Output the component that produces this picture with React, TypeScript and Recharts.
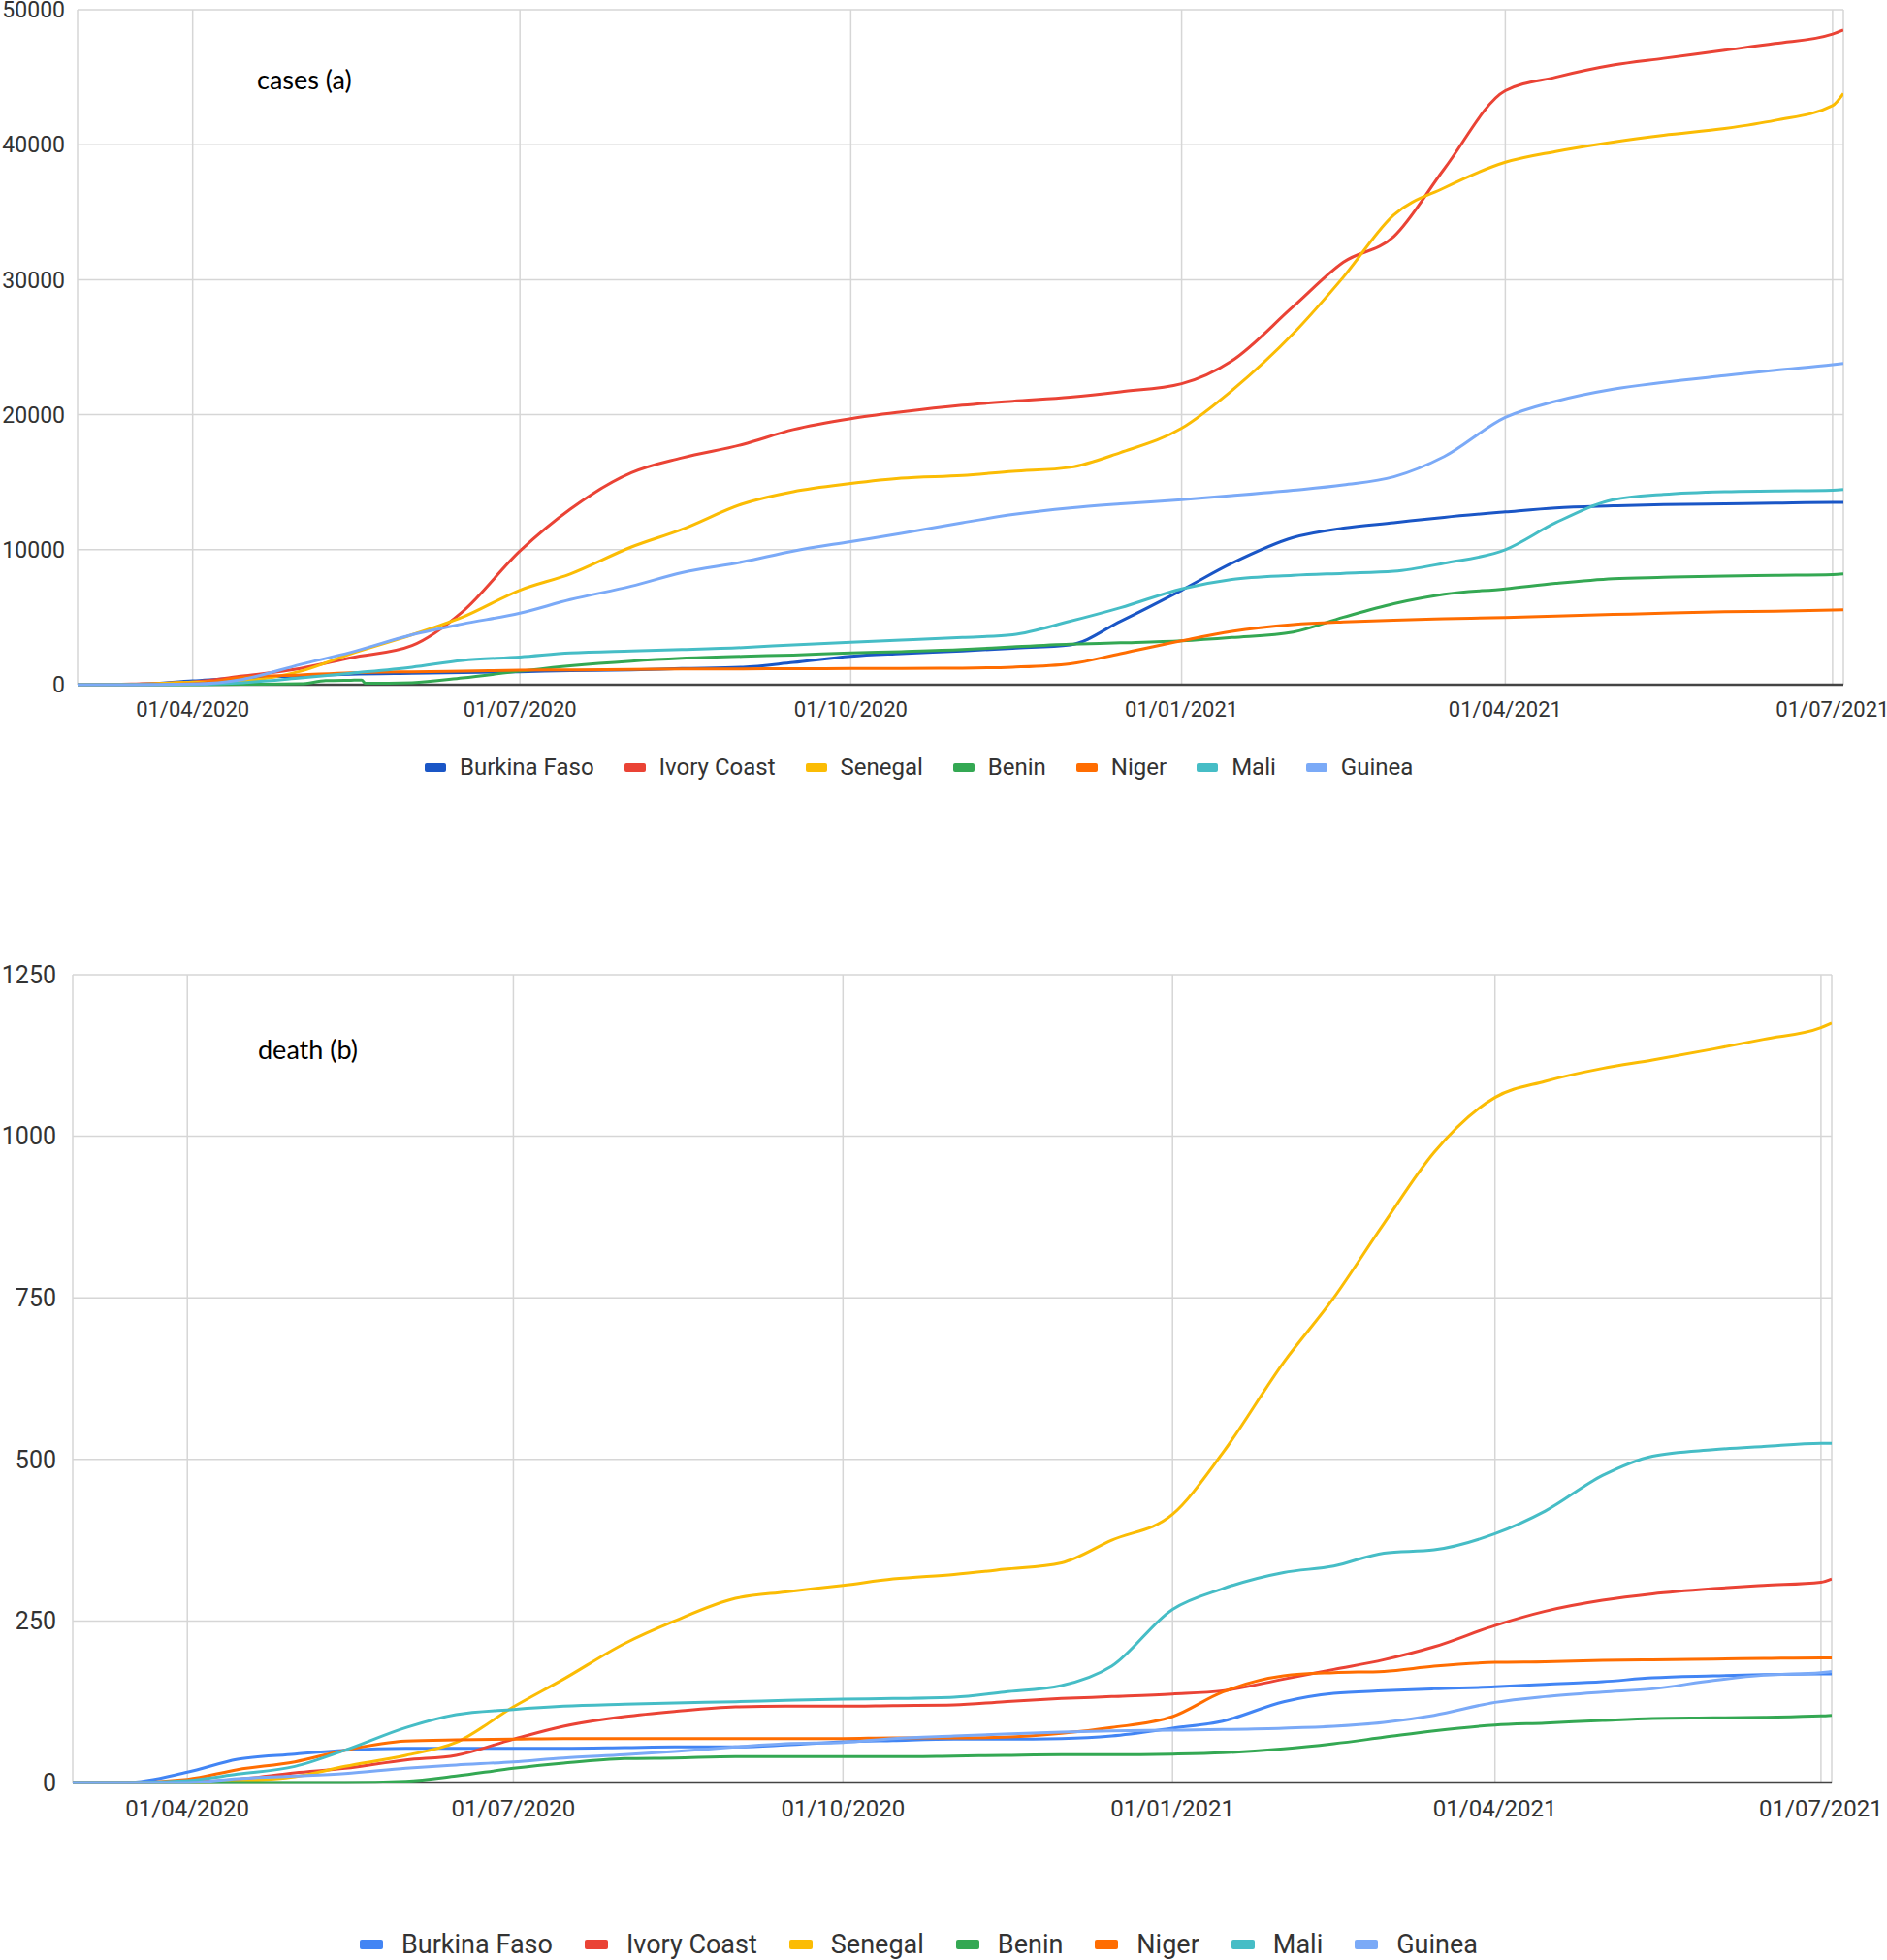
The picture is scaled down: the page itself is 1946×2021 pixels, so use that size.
import React from 'react';
import { LineChart, Line, XAxis, YAxis, CartesianGrid, ReferenceLine, Legend } from 'recharts';

const dates = [
  '2020-02-29', '2020-03-15', '2020-04-01', '2020-04-15', '2020-05-01', '2020-05-08', '2020-05-15', '2020-05-18', '2020-05-19',
  '2020-06-01', '2020-06-15', '2020-07-01', '2020-07-15', '2020-08-01', '2020-08-15', '2020-09-01', '2020-09-15',
  '2020-10-01', '2020-10-15', '2020-11-01', '2020-11-15', '2020-12-01', '2020-12-15', '2021-01-01', '2021-01-15',
  '2021-02-01', '2021-02-15', '2021-03-01', '2021-03-15', '2021-04-01', '2021-04-15', '2021-05-01', '2021-05-15',
  '2021-06-01', '2021-06-15', '2021-07-01', '2021-07-04',
];

const countries = ['Burkina Faso', 'Ivory Coast', 'Senegal', 'Benin', 'Niger', 'Mali', 'Guinea'];
const seriesKeys = ['bf', 'ic', 'sn', 'bj', 'ne', 'ml', 'gn'];

// cumulative cases (a)
const casesBurkinaFaso = [0, 15, 280, 500, 650, null, 780, null, null, 850, 900, 960, 1040, 1100, 1200, 1300, 1650, 2100, 2300, 2500, 2700, 2950, 4700, 7000, 9000, 10900, 11600, 12000, 12400, 12800, 13100, 13250, 13350, 13400, 13450, 13500, 13500];
const casesIvoryCoast = [0, 50, 200, 640, 1200, null, 2000, null, null, 2900, 5400, 9900, 13000, 15700, 16800, 17800, 18900, 19700, 20200, 20700, 21000, 21300, 21700, 22300, 24000, 28000, 31300, 33200, 38200, 44000, 45000, 45900, 46400, 47000, 47500, 48200, 48500];
const casesSenegal = [0, 30, 190, 300, 1000, null, 2300, null, null, 3700, 5000, 7000, 8200, 10200, 11500, 13400, 14300, 14900, 15300, 15500, 15800, 16100, 17200, 19000, 21800, 26000, 30200, 34800, 36800, 38700, 39500, 40200, 40700, 41200, 41800, 42900, 43800];
const casesBenin = [0, 0, 6, 35, 64, 300, 330, 340, 100, 150, 500, 1000, 1400, 1750, 1950, 2100, 2200, 2350, 2450, 2600, 2800, 3000, 3100, 3250, 3500, 3900, 5000, 6000, 6700, 7100, 7500, 7850, 7950, 8050, 8100, 8150, 8200];
const casesNiger = [0, 0, 80, 550, 720, null, 880, null, null, 960, 1000, 1075, 1100, 1130, 1160, 1175, 1180, 1200, 1210, 1230, 1300, 1550, 2300, 3250, 3950, 4450, 4650, 4780, 4880, 4980, 5080, 5200, 5300, 5400, 5450, 5530, 5550];
const casesMali = [0, 0, 30, 150, 500, null, 850, null, null, 1300, 1800, 2050, 2350, 2500, 2600, 2750, 2950, 3150, 3300, 3500, 3700, 4700, 5700, 7100, 7800, 8100, 8250, 8400, 9000, 10000, 12000, 13700, 14100, 14300, 14350, 14400, 14450];
const casesGuinea = [0, 5, 50, 400, 1500, null, 2400, null, null, 3700, 4500, 5300, 6300, 7300, 8300, 9100, 9900, 10600, 11200, 12000, 12600, 13100, 13400, 13700, 14000, 14400, 14800, 15400, 16900, 19800, 21000, 21900, 22400, 22900, 23300, 23700, 23800];

// cumulative deaths (b)
const deathsBurkinaFaso = [0, 0, 16, 36, 44, null, 50, null, null, 53, 53, 53, 53, 54, 55, 55, 58, 63, 65, 67, 67, 68, 72, 84, 95, 125, 138, 142, 145, 148, 152, 156, 162, 165, 167, 168, 168];
const deathsIvoryCoast = [0, 0, 1, 5, 15, null, 22, null, null, 35, 42, 67, 87, 102, 110, 117, 118, 118, 119, 120, 125, 130, 133, 137, 142, 160, 175, 190, 210, 243, 265, 282, 292, 300, 305, 310, 315];
const deathsSenegal = [0, 0, 0, 2, 9, null, 25, null, null, 42, 62, 117, 160, 215, 250, 285, 295, 305, 315, 322, 330, 340, 375, 415, 510, 650, 750, 865, 975, 1060, 1085, 1105, 1118, 1135, 1150, 1168, 1175];
const deathsBenin = [0, 0, 0, 0, 0, null, 0, null, null, 2, 10, 22, 30, 37, 38, 40, 40, 40, 40, 41, 42, 43, 43, 44, 46, 52, 60, 70, 80, 89, 92, 96, 99, 100, 101, 103, 104];
const deathsNiger = [0, 0, 5, 20, 32, null, 50, null, null, 64, 66, 67, 68, 68, 68, 68, 68, 68, 69, 69, 70, 76, 85, 102, 140, 165, 170, 172, 180, 186, 187, 189, 190, 191, 192, 193, 193];
const deathsMali = [0, 0, 3, 13, 25, null, 50, null, null, 85, 105, 113, 118, 121, 123, 125, 127, 129, 130, 132, 140, 150, 180, 268, 300, 325, 335, 355, 360, 385, 420, 475, 505, 515, 520, 525, 525];
const deathsGuinea = [0, 0, 0, 6, 10, null, 14, null, null, 22, 27, 32, 38, 43, 48, 55, 60, 62, 68, 72, 75, 78, 80, 81, 82, 84, 87, 93, 104, 124, 133, 140, 145, 158, 166, 170, 172];

const xTickDates = ['2020-04-01', '2020-07-01', '2020-10-01', '2021-01-01', '2021-04-01', '2021-07-01'];
const xDomainDates = ['2020-02-29', '2021-07-04'];
const casesTicks = [0, 10000, 20000, 30000, 40000, 50000];
const deathsTicks = [0, 250, 500, 750, 1000, 1250];

const casesColors = ['#1a56c6', '#ea4335', '#fbbc04', '#34a853', '#ff6d01', '#46bdc6', '#7baaf7'];
const deathsColors = ['#4285f4', '#ea4335', '#fbbc04', '#34a853', '#ff6d01', '#46bdc6', '#7baaf7'];

const toTs = (s: string) => {
  const [y, m, d] = s.split('-').map(Number);
  return Date.UTC(y, m - 1, d);
};
const fmtDate = (t: number) => {
  const d = new Date(t);
  const dd = String(d.getUTCDate()).padStart(2, '0');
  const mm = String(d.getUTCMonth() + 1).padStart(2, '0');
  return `${dd}/${mm}/${d.getUTCFullYear()}`;
};

const buildRows = (series: (number | null)[][]) =>
  dates.map((d, i) => {
    const row: Record<string, number | null> = { t: toTs(d) };
    seriesKeys.forEach((k, j) => {
      row[k] = series[j][i];
    });
    return row;
  });

const casesRows = buildRows([casesBurkinaFaso, casesIvoryCoast, casesSenegal, casesBenin, casesNiger, casesMali, casesGuinea]);
const deathsRows = buildRows([deathsBurkinaFaso, deathsIvoryCoast, deathsSenegal, deathsBenin, deathsNiger, deathsMali, deathsGuinea]);

const xTicks = xTickDates.map(toTs);
const xDomain = xDomainDates.map(toTs);

const FONT = 'Roboto, "Noto Sans", Arial, sans-serif';

const LegendRow = ({ colors, fontSize, swatchW, swatchH, gapIcon, gapItem, left }: any) => (
  <div style={{ display: 'flex', alignItems: 'center', height: 32, paddingLeft: left, fontFamily: FONT, fontSize, color: '#333', whiteSpace: 'nowrap' }}>
    {countries.map((c, i) => (
      <div key={c} style={{ display: 'flex', alignItems: 'center', marginRight: gapItem }}>
        <span style={{ display: 'inline-block', width: swatchW, height: swatchH, background: colors[i], borderRadius: 2, marginRight: gapIcon }} />
        <span>{c}</span>
      </div>
    ))}
  </div>
);

const Panel = ({ rows, colors, ticks, yMax, width, height, margin, yWidth, yFont, yTickMargin, xFont, xTickMargin, xHeight, legend, legendTop }: any) => (
  <LineChart width={width} height={height} data={rows} margin={margin}>
    <CartesianGrid stroke="#d6d6d6" strokeWidth={1.5} />
    <XAxis
      dataKey="t"
      type="number"
      scale="time"
      domain={xDomain}
      ticks={xTicks}
      interval={0}
      tickFormatter={fmtDate}
      axisLine={false}
      tickLine={false}
      height={xHeight}
      tickMargin={xTickMargin}
      tick={{ fill: '#333', fontSize: xFont, fontFamily: FONT }}
      allowDataOverflow
    />
    <YAxis
      type="number"
      domain={[0, yMax]}
      ticks={ticks}
      interval={0}
      axisLine={false}
      tickLine={false}
      width={yWidth}
      tickMargin={yTickMargin}
      tick={{ fill: '#333', fontSize: yFont, fontFamily: FONT }}
    />
    <ReferenceLine y={0} stroke="#444" strokeWidth={2.5} />
    {seriesKeys.map((k, i) => (
      <Line
        key={k}
        dataKey={k}
        name={countries[i]}
        type="monotone"
        stroke={colors[i]}
        strokeWidth={3}
        dot={false}
        activeDot={false}
        connectNulls
        isAnimationActive={false}
      />
    ))}
    <Legend
      layout="horizontal"
      verticalAlign="middle"
      align="center"
      content={() => legend}
      wrapperStyle={{ top: legendTop, bottom: 'auto', left: 0, width: width, height: 32 }}
    />
  </LineChart>
);

const noteStyle: React.CSSProperties = {
  position: 'absolute',
  fontFamily: 'Lato, "Open Sans", sans-serif',
  fontSize: 27,
  lineHeight: '30px',
  color: '#000',
  whiteSpace: 'nowrap',
};

export default function App() {
  return (
    <div style={{ position: 'absolute', left: 0, top: 0, width: 1946, height: 2021, background: '#fff', overflow: 'hidden' }}>
      <div style={{ position: 'absolute', left: 0, top: 0 }}>
        <Panel
          rows={casesRows}
          colors={casesColors}
          ticks={casesTicks}
          yMax={50000}
          width={1946}
          height={830}
          margin={{ top: 10, right: 45, left: 0, bottom: 0 }}
          yWidth={80}
          yFont={23}
          yTickMargin={7}
          xFont={22}
          xTickMargin={11}
          xHeight={124}
          legendTop={775}
          legend={<LegendRow colors={casesColors} fontSize={24} swatchW={22} swatchH={9} gapIcon={14} gapItem={31} left={438} />}
        />
      </div>
      <div style={{ ...noteStyle, left: 265, top: 67 }}>cases (a)</div>
      <div style={{ position: 'absolute', left: 0, top: 950 }}>
        <Panel
          rows={deathsRows}
          colors={deathsColors}
          ticks={deathsTicks}
          yMax={1250}
          width={1946}
          height={1071}
          margin={{ top: 55, right: 57, left: 0, bottom: 0 }}
          yWidth={75}
          yFont={25}
          yTickMargin={11}
          xFont={24}
          xTickMargin={12}
          xHeight={183}
          legendTop={1039}
          legend={<LegendRow colors={deathsColors} fontSize={27} swatchW={24} swatchH={10} gapIcon={19} gapItem={33} left={371} />}
        />
      </div>
      <div style={{ ...noteStyle, left: 266, top: 1067 }}>death (b)</div>
    </div>
  );
}
